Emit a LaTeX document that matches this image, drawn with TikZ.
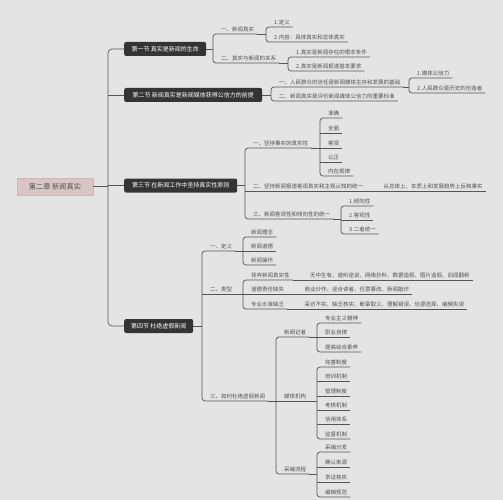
\documentclass[tikz,border=0pt]{standalone}
\usepackage{fontspec}
\setmainfont{Noto Sans CJK SC}
\usetikzlibrary{calc}
\definecolor{bg}{HTML}{E4E4E4}
\definecolor{lncol}{HTML}{555555}
\definecolor{tx}{HTML}{505050}
\definecolor{secfill}{HTML}{343434}
\definecolor{rootfill}{HTML}{D9C5C5}
\definecolor{rootdraw}{HTML}{CDB6B6}
\begin{document}
\begin{tikzpicture}[x=1pt,y=-1pt,
  conn/.style={draw=lncol, line width=0.7pt},
  brk/.style={conn, rounded corners=3pt},
  tbase/.style={font=\fontsize{5.5}{6}\selectfont, text=tx, inner xsep=0pt, inner ysep=2pt, anchor=south west},
  topic/.style={tbase, execute at begin node={\hspace*{8pt}}, execute at end node={\hspace*{3pt}}},
  leaf/.style={tbase, execute at begin node={\hspace*{17pt}}, execute at end node={\hspace*{3pt}}},
  sec/.style={fill=secfill, text=white, font=\fontsize{6}{7}\selectfont, rounded corners=2pt, inner xsep=4pt, inner ysep=0pt, minimum height=14pt, anchor=west},
  rootbox/.style={fill=rootfill, draw=rootdraw, line width=0.5pt, text=tx, font=\fontsize{7.2}{8}\selectfont, minimum width=76pt, minimum height=17pt, inner sep=0pt}
]
\fill[bg] (0,0) rectangle (503,500);
\useasboundingbox (0,0) rectangle (503,500);

% root and sections
\node[rootbox] (root) at (55,186.5) {第二章 新闻真实};
\coordinate (tk) at (108,0);
\node[sec, minimum width=82pt] (s1) at (124,49) {第一节 真实是新闻的生命};
\node[sec, minimum width=138pt] (s2) at (124,95) {第二节 新闻真实是新闻媒体获得公信力的前提};
\node[sec, minimum width=113pt] (s3) at (124,185.5) {第三节 在新闻工作中坚持真实性原则};
\node[sec, minimum width=69pt] (s4) at (124,326) {第四节 杜绝虚假新闻};

% section 1
\node[topic] (a1) at (213,34) {一、新闻真实};
\node[topic] (a2) at (213,63) {二、真实与新闻的关系};
\node[topic] (a11) at (266,27) {1.定义};
\node[topic] (a12) at (266,42) {2.内容：具体真实和总体真实};
\node[topic] (a21) at (288,57) {1.真实是新闻存在的根本条件};
\node[topic] (a22) at (288,71) {2.真实是新闻报道基本要求};

% section 2
\node[topic] (b1) at (271,87) {一、人民群众的信任是新闻媒体生存和发展的基础};
\node[topic] (b2) at (271,101) {二、新闻真实是评价新闻媒体公信力的重要标准};
\node[topic] (b11) at (409,78) {1.媒体公信力};
\node[topic] (b12) at (409,93) {2.人民群众是历史的创造者};

% section 3
\node[topic] (c1) at (245,148) {一、坚持事实的真实性};
\node[topic] (c2) at (245,191) {二、坚持新闻报道客观真实和主观认知的统一};
\node[leaf] (c2l) at (c2.south east) {从总体上、本质上和发展趋势上反映事实};
\node[topic] (c3) at (245,219) {三、新闻客观性和倾向性的统一};
\node[topic] (c11) at (320,118) {准确};
\node[topic] (c12) at (320,133) {全面};
\node[topic] (c13) at (320,148) {客观};
\node[topic] (c14) at (320,162) {公正};
\node[topic] (c15) at (320,176) {内在规律};
\node[topic] (c31) at (341,206) {1.倾向性};
\node[topic] (c32) at (341,220) {2.客观性};
\node[topic] (c33) at (341,234) {3.二者统一};

% section 4
\node[topic] (e1) at (202,251) {一、定义};
\node[topic] (e2) at (202,294) {二、类型};
\node[topic] (e3) at (202,401) {三、如何杜绝虚假新闻};
\node[topic] (e11) at (243,237) {新闻理念};
\node[topic] (e12) at (243,251) {新闻道德};
\node[topic] (e13) at (243,265) {新闻操作};
\node[topic] (e21) at (243,280) {背弃新闻真实性};
\node[topic] (e22) at (243,294) {道德责任缺失};
\node[topic] (e23) at (243,309) {专业水准缺乏};
\node[leaf] (e21l) at (e21.south east) {无中生有、道听途说、网络抄料、数据造假、图片造假、旧闻翻新};
\node[leaf] (e22l) at (e22.south east) {商业炒作、迎合读者、任意篡改、新闻敲诈};
\node[leaf] (e23l) at (e23.south east) {采访不实、缺乏核实、断章取义、理解错误、信源选择、编辑失误};
\node[topic] (f1) at (276,337) {新闻记者};
\node[topic] (f2) at (276,401) {媒体机构};
\node[topic] (f3) at (276,474) {采编流程};
\node[topic] (f11) at (317,323) {专业主义精神};
\node[topic] (f12) at (317,337) {职业自律};
\node[topic] (f13) at (317,352) {提高综合素养};
\node[topic] (f21) at (317,367) {完善制度};
\node[topic] (f22) at (317,381) {培训机制};
\node[topic] (f23) at (317,396) {管理制度};
\node[topic] (f24) at (317,410) {考核机制};
\node[topic] (f25) at (317,424) {信用体系};
\node[topic] (f26) at (317,439) {监督机制};
\node[topic] (f31) at (317,452) {采编分发};
\node[topic] (f32) at (317,467) {确认来源};
\node[topic] (f33) at (317,482) {求证核实};
\node[topic] (f34) at (317,497) {编辑规范};

% trunk
\draw[conn, rounded corners=4pt] (s1.west) -- (s1.west -| tk) -- (s4.west -| tk) -- (s4.west);
\draw[conn] (root.east) -- (root.east -| tk);
\draw[conn] (s2.west -| tk) -- (s2.west);
\draw[conn] (s3.west -| tk) -- (s3.west);

% section -> bracket connectors
\draw[conn] (s1.east) -- (s1.east -| a1.south west);
\draw[conn] (s2.east) -- (s2.east -| b1.south west);
\draw[conn] (s3.east) -- (s3.east -| c1.south west);
\draw[conn] (s4.east) -- (s4.east -| e1.south west);

% topic -> bracket connectors
\foreach \p/\c in {a1/a11, a2/a21, b1/b11, c1/c11, c3/c31, e1/e11, e2/e21, e3/f1, f1/f11, f2/f21, f3/f31}
  \draw[conn] (\p.south east) -- (\p.south east -| \c.south west);

% brackets with first and last underlines
\foreach \f/\l in {a1/a2, a11/a12, a21/a22, b1/b2, b11/b12, c1/c3, c11/c15, c31/c33, e1/e3, e11/e13, e21/e23, f1/f3, f11/f13, f21/f26, f31/f34}
  \draw[brk] (\f.south east) -- (\f.south west) -- (\l.south west) -- (\l.south east);

% middle underlines and leaves
\foreach \n in {c2, c2l, c12, c13, c14, c32, e2, e12, e22, e21l, e22l, e23l, f2, f12, f22, f23, f24, f25, f32, f33}
  \draw[conn] (\n.south west) -- (\n.south east);
\end{tikzpicture}
\end{document}
